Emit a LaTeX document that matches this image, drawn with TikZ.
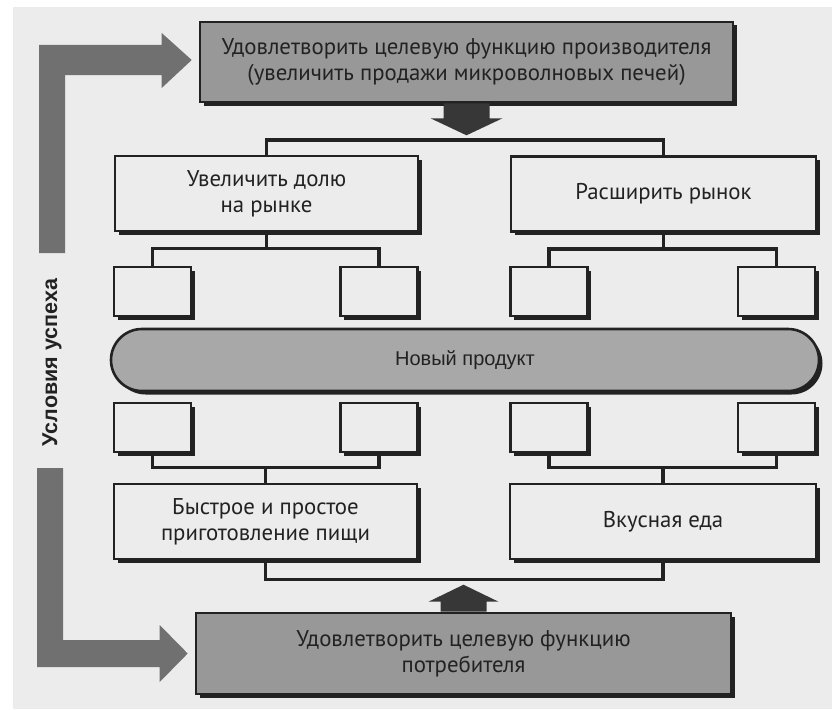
\documentclass[tikz,border=0pt]{standalone}
\usepackage{fontspec}
\setmainfont{PT Sans}
\newfontfamily\helv{Liberation Sans}
\usetikzlibrary{calc,shadows}

\definecolor{paper}{RGB}{236,236,236}
\definecolor{ink}{RGB}{34,34,34}
\definecolor{arrowdark}{RGB}{55,55,55}
\definecolor{bargray}{RGB}{112,112,112}
\definecolor{goalgray}{RGB}{152,152,152}
\definecolor{pillgray}{RGB}{168,168,168}

\begin{document}
\begin{tikzpicture}[x=1pt,y=-1pt,
  frame/.style={rectangle, draw=ink, line width=2.6pt, inner sep=0pt, align=center,
    text=ink, font=\fontsize{22.8}{26}\selectfont,
    drop shadow={shadow xshift=3.5pt, shadow yshift=-3.5pt, fill=ink, opacity=1}},
  plainbox/.style={frame, fill=paper},
  goalbox/.style={frame, fill=goalgray, minimum width=533pt, minimum height=80pt},
  cell/.style={plainbox, minimum width=77pt, minimum height=49pt},
  wide/.style={plainbox, minimum width=303pt, minimum height=75pt},
  link/.style={draw=ink, line width=3.6pt},
  bigarrow/.style={fill=bargray},
  smallarrow/.style={fill=arrowdark}]

% page and paper
\useasboundingbox (0,0) rectangle (832,709);
\fill[white] (0,0) rectangle (832,709);
\fill[paper] (13,7) rectangle (832,709);

% goals
\node[goalbox] (P) at (466.5,62)
  {Удовлетворить целевую функцию производителя\\(увеличить продажи микроволновых печей)};
\node[goalbox, minimum width=535pt, minimum height=81pt] (Q) at (463.5,653.5)
  {Удовлетворить целевую функцию\\потребителя};

% second level
\node[wide] (A1) at (266.5,193.5) {Увеличить долю\\на рынке};
\node[wide, minimum width=305pt] (A2) at (663.5,194) {Расширить рынок};

% empty cells above the product
\node[cell] (B1) at (152.5,291.5) {};
\node[cell] (B2) at (379,291.5) {};
\node[cell] (B3) at (549,291.5) {};
\node[cell] (B4) at (776.5,291.5) {};

% the product
\node[frame, fill=pillgray, rounded corners=31pt, minimum width=708pt, minimum height=62pt,
  font=\helv\fontsize{20}{20}\selectfont] (N) at (465,360) {Новый продукт};

% empty cells below the product
\node[cell] (C1) at (152.5,427.5) {};
\node[cell] (C2) at (379,427.5) {};
\node[cell] (C3) at (549,427.5) {};
\node[cell] (C4) at (776.5,427.5) {};

% consumer benefits
\node[wide] (D1) at (265.5,521.5) {Быстрое и простое\\приготовление пищи};
\node[wide, minimum width=306pt] (D2) at (663,521.5) {Вкусная еда};

% tree connectors
\draw[link] (A1.north) -- ++(0,-15) -| (A2.north);
\draw[link] (A1.south) -- ++(0,16) -| (B1.north);
\draw[link] (A1.south) ++(0,16) -| (B2.north);
\draw[link] (A2.south) -- ++(0,16) -| (B3.north);
\draw[link] (A2.south) ++(0,16) -| (B4.north);
\draw[link] (C1.south) -- ++(0,14) -| (C2.south);
\draw[link] (C3.south) -- ++(0,14) -| (C4.south);
\draw[link] (D1.north) -- ++(0,-16);
\draw[link] (D2.north) -- ++(0,-16);
\draw[link] (D1.south) -- ++(0,19) -| (D2.south);

% block arrows between the goals and the tree
\fill[smallarrow] ($(P.south)+(-23,0)$) -- ++(0,15) -- ++(-13,0) -- ($(P.south)+(0,32)$)
  -- ($(P.south)+(36,15)$) -- ++(-13,0) -- ++(0,-15) -- cycle;
\fill[smallarrow] ($(Q.north)+(-23,0)$) -- ++(0,-10) -- ++(-12,0) -- ($(Q.north)+(0,-27)$)
  -- ($(Q.north)+(35,-10)$) -- ++(-12,0) -- ++(0,10) -- cycle;

% side label and the two L-shaped arrows
\node[rotate=90, inner sep=0pt, text=ink, font=\helv\bfseries\fontsize{21.5}{21.5}\selectfont]
  (S) at (52,362.5) {Условия успеха};
\coordinate (tipP) at ($(P.west)+(-7,-2)$);
\coordinate (tipQ) at ($(Q.west)+(-7,0)$);
\fill[bigarrow] (39,253) |- ($(tipP)+(-30,-15)$) -- ++(0,-12) -- (tipP)
  -- ++(-30,28) -- ++(0,-13) -| (65,253) -- cycle;
\fill[bigarrow] (37,468) |- ($(tipQ)+(-28,13.5)$) -- ++(0,15) -- (tipQ)
  -- ++(-28,-28.5) -- ++(0,15) -| (63,468) -- cycle;

\end{tikzpicture}
\end{document}
